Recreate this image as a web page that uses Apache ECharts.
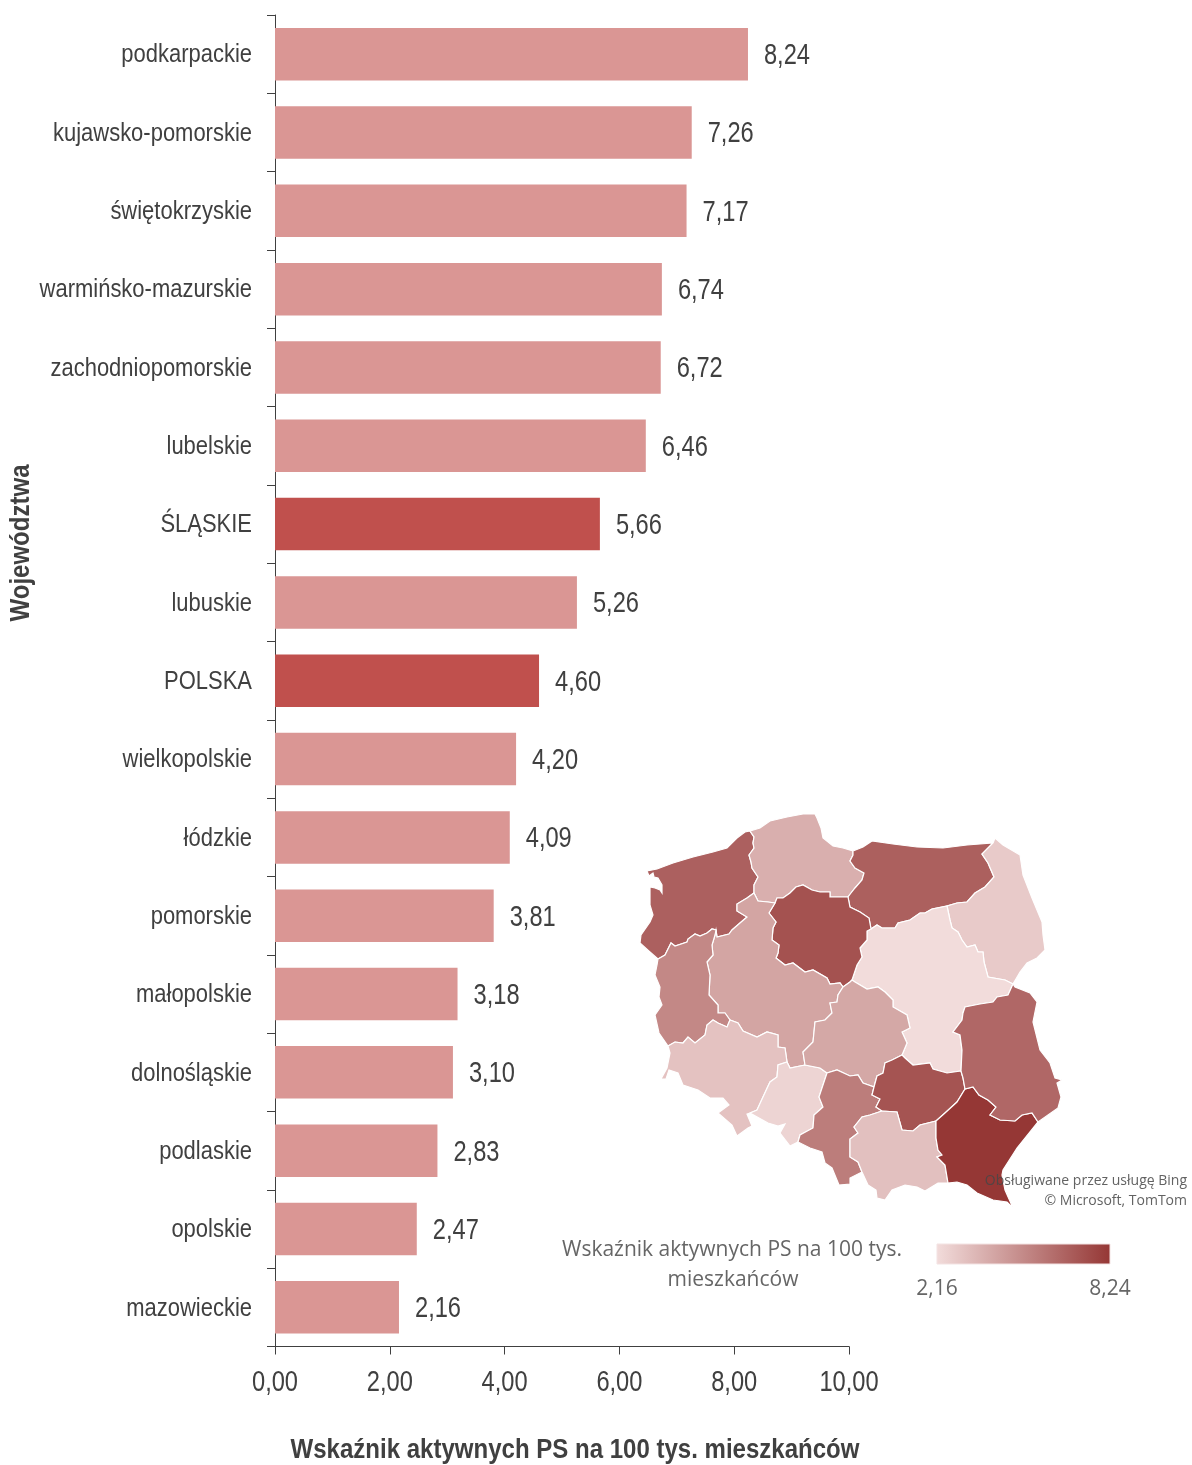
<!DOCTYPE html>
<html>
<head>
<meta charset="utf-8">
<title>Wskaźnik aktywnych PS</title>
<style>
html, body { margin: 0; padding: 0; background: #fff; }
#main { width: 1192px; height: 1465px; }
</style>
<script src="https://cdn.jsdelivr.net/npm/echarts@6/dist/echarts.min.js"></script>
</head>
<body>
<div id="main"></div>
<script>
var categories = ['podkarpackie', 'kujawsko-pomorskie', 'świętokrzyskie', 'warmińsko-mazurskie',
	'zachodniopomorskie', 'lubelskie', 'ŚLĄSKIE', 'lubuskie', 'POLSKA', 'wielkopolskie', 'łódzkie',
	'pomorskie', 'małopolskie', 'dolnośląskie', 'podlaskie', 'opolskie', 'mazowieckie'];
var values = [8.24, 7.26, 7.17, 6.74, 6.72, 6.46, 5.66, 5.26, 4.60, 4.20, 4.09, 3.81, 3.18, 3.10, 2.83, 2.47, 2.16];
var highlighted = ['ŚLĄSKIE', 'POLSKA'];
var axisTicks = [0, 2, 4, 6, 8, 10];

// region borders, shared between neighbours
var arcs = {
	zachOuter: [[658,959],[650,952],[640,943],[641,935],[650,922],[653,915],[650,905],[650,887],[655,888],[660,890],[662,893],[662,885],[658,878],[654,877],[653,873],[649,876],[647,871],[657,869],[673,863],[693,857],[713,852],[727,848],[737,838],[745,832],[750,831]],
	zachPom: [[750,831],[754,837],[753,843],[754,848],[749,855],[751,862],[752,868],[758,877],[754,885],[754,893]],
	zachWlkp: [[754,893],[747,898],[737,904],[737,911],[747,917],[740,923],[732,930],[729,934],[717,937],[716,930]],
	zachLubu: [[716,930],[712,929],[707,933],[700,936],[695,934],[688,939],[687,942],[675,946],[671,943],[665,955],[658,959]],
	pomOuter: [[750,831],[760,828],[770,821],[787,817],[803,814],[815,814],[817,818],[821,828],[823,838],[833,846],[843,848],[853,851]],
	pomWarm: [[853,851],[853,855],[850,861],[855,868],[864,873],[862,880],[855,888],[851,893],[848,897]],
	pomKuj: [[848,897],[830,897],[830,892],[820,892],[812,890],[803,885],[796,887],[790,893],[783,898],[777,898],[775,903]],
	pomWlkp: [[775,903],[768,902],[758,901],[754,893]],
	warmOuter: [[853,851],[863,847],[872,841],[893,844],[917,847],[943,848],[967,845],[993,843]],
	warmPodl: [[993,843],[982,854],[988,863],[994,877],[985,887],[975,893],[967,902],[957,903],[947,906]],
	warmMaz: [[947,906],[932,909],[925,913],[920,913],[910,920],[898,923],[895,928],[882,928],[877,925],[871,929]],
	warmKuj: [[871,929],[869,918],[860,912],[850,907],[848,897]],
	podlOuter: [[993,843],[995,838],[1003,845],[1020,855],[1023,875],[1032,898],[1042,922],[1043,935],[1045,950],[1037,958],[1027,963],[1020,972],[1013,984]],
	podlMaz: [[1013,984],[1005,980],[988,977],[984,962],[983,952],[978,952],[975,945],[967,947],[962,940],[958,932],[952,928],[950,920],[947,906]],
	mazLube: [[1013,984],[1008,995],[997,997],[993,1002],[980,1004],[965,1007],[963,1013],[962,1020],[953,1032],[960,1035],[962,1050],[961,1071]],
	mazSwie: [[961,1071],[947,1073],[933,1069],[930,1063],[913,1065],[905,1058],[902,1055]],
	mazLodz: [[902,1055],[907,1043],[902,1032],[910,1028],[907,1015],[893,1007],[893,1000],[885,992],[878,987],[867,989],[855,982],[852,980]],
	mazKuj: [[852,980],[857,965],[862,957],[860,948],[867,940],[867,931],[871,929]],
	kujLodz: [[852,980],[850,982],[843,987]],
	kujWlkp: [[775,903],[769,913],[776,922],[773,928],[772,940],[779,945],[778,953],[776,958],[785,965],[793,963],[805,972],[813,970],[827,978],[830,984],[840,983],[843,987]],
	wlkpLodz: [[843,987],[838,995],[837,1002],[830,1003],[832,1013],[825,1020],[815,1022],[813,1042],[803,1052],[805,1065]],
	wlkpOpol: [[805,1065],[790,1068],[787,1062]],
	wlkpDol: [[787,1062],[785,1048],[778,1047],[778,1035],[767,1032],[757,1037],[743,1031],[738,1023],[730,1020]],
	wlkpLubu: [[716,930],[715,935],[712,945],[713,955],[707,962],[710,975],[709,995],[718,1005],[718,1013],[725,1013],[730,1020]],
	lubuDol: [[730,1020],[727,1027],[718,1023],[713,1020],[707,1025],[705,1035],[695,1043],[688,1037],[683,1043],[675,1042],[668,1046]],
	lubuOuter: [[668,1046],[659,1033],[655,1015],[662,1005],[659,997],[660,987],[655,975],[657,965],[658,959]],
	dolOpol: [[787,1062],[778,1065],[777,1077],[770,1082],[763,1097],[757,1110],[750,1113]],
	dolOuter: [[750,1113],[747,1114],[752,1126],[748,1128],[737,1136],[732,1125],[718,1113],[729,1105],[723,1098],[710,1098],[698,1090],[683,1085],[678,1073],[669,1070],[666,1079],[661,1079],[667,1068],[670,1053],[668,1046]],
	opolLodz: [[805,1065],[820,1068],[827,1073]],
	opolSl: [[798,1142],[800,1135],[813,1128],[814,1115],[823,1107],[819,1097],[823,1085],[827,1073]],
	opolOuter: [[798,1142],[790,1146],[780,1133],[785,1124],[778,1126],[768,1123],[750,1113]],
	lodzSwie: [[902,1055],[892,1060],[885,1063],[883,1073],[877,1076],[874,1087]],
	lodzSl: [[874,1087],[863,1083],[858,1075],[850,1076],[837,1070],[827,1073]],
	slSwie: [[874,1087],[872,1095],[880,1099],[876,1107],[882,1111]],
	slMal: [[882,1111],[870,1115],[862,1117],[854,1127],[858,1133],[850,1139],[850,1157],[858,1162],[862,1172]],
	slOuter: [[862,1172],[850,1178],[850,1184],[839,1185],[832,1168],[825,1163],[822,1152],[810,1148],[798,1142]],
	swieLube: [[961,1071],[963,1078],[965,1089]],
	swiePodk: [[965,1089],[957,1102],[945,1113],[936,1121]],
	swieMal: [[936,1121],[920,1125],[913,1131],[902,1130],[897,1112],[882,1111]],
	malPodk: [[936,1121],[936,1138],[938,1150],[942,1155],[937,1157],[945,1165],[948,1183]],
	malOuter: [[948,1183],[938,1183],[925,1191],[917,1187],[905,1185],[892,1190],[885,1200],[877,1198],[876,1190],[868,1185],[862,1172]],
	lubePodk: [[965,1089],[973,1087],[979,1095],[988,1100],[996,1107],[990,1115],[1000,1120],[1015,1121],[1022,1115],[1032,1113],[1038,1122]],
	lubeOuter: [[1013,984],[1015,987],[1030,993],[1037,1002],[1033,1022],[1040,1050],[1050,1063],[1055,1078],[1062,1080],[1057,1083],[1061,1097],[1058,1108],[1038,1122]],
	podkOuter: [[1038,1122],[1017,1148],[1003,1170],[1002,1175],[1005,1190],[1013,1208],[1007,1202],[993,1200],[977,1193],[967,1185],[957,1182],[948,1183]]
};

var regions = {
	'zachodniopomorskie': ['zachOuter', 'zachPom', 'zachWlkp', 'zachLubu'],
	'pomorskie': ['pomOuter', 'pomWarm', 'pomKuj', 'pomWlkp', '-zachPom'],
	'warmińsko-mazurskie': ['warmOuter', 'warmPodl', 'warmMaz', 'warmKuj', '-pomWarm'],
	'podlaskie': ['podlOuter', 'podlMaz', '-warmPodl'],
	'mazowieckie': ['mazLube', 'mazSwie', 'mazLodz', 'mazKuj', '-warmMaz', '-podlMaz'],
	'kujawsko-pomorskie': ['-pomKuj', '-warmKuj', '-mazKuj', 'kujLodz', '-kujWlkp'],
	'wielkopolskie': ['-pomWlkp', 'kujWlkp', 'wlkpLodz', 'wlkpOpol', 'wlkpDol', '-wlkpLubu', '-zachWlkp'],
	'lubuskie': ['-zachLubu', 'wlkpLubu', 'lubuDol', 'lubuOuter'],
	'dolnośląskie': ['-lubuDol', '-wlkpDol', 'dolOpol', 'dolOuter'],
	'opolskie': ['-wlkpOpol', 'opolLodz', '-opolSl', 'opolOuter', '-dolOpol'],
	'łódzkie': ['-wlkpLodz', '-kujLodz', '-mazLodz', 'lodzSwie', 'lodzSl', '-opolLodz'],
	'śląskie': ['opolSl', '-lodzSl', 'slSwie', 'slMal', 'slOuter'],
	'świętokrzyskie': ['-mazSwie', 'swieLube', 'swiePodk', 'swieMal', '-slSwie', '-lodzSwie'],
	'małopolskie': ['-slMal', '-swieMal', 'malPodk', 'malOuter'],
	'podkarpackie': ['-swiePodk', 'lubePodk', 'podkOuter', '-malPodk'],
	'lubelskie': ['-mazLube', 'lubeOuter', '-lubePodk', '-swieLube']
};

function buildRing(parts) {
	var ring = [];
	for (var i = 0; i < parts.length; i++) {
		var name = parts[i];
		var pts = name.charAt(0) == '-' ? arcs[name.substring(1)].slice().reverse() : arcs[name];
		for (var j = 0; j < pts.length; j++) {
			ring.push([pts[j][0], -pts[j][1]]); // geo y points up
		}
	}
	ring.push(ring[0]);
	return ring;
}

var features = [];
for (var key in regions) {
	features.push({
		type: 'Feature',
		properties: { name: key },
		geometry: { type: 'Polygon', coordinates: [buildRing(regions[key])] }
	});
}
echarts.registerMap('polska', { type: 'FeatureCollection', features: features });

function comma(v) {
	return v.toFixed(2).replace('.', ',');
}

var mapData = [];
var barData = [];
var nameLabels = [];
var valueLabels = [];
for (var i = 0; i < categories.length; i++) {
	if (categories[i] != 'POLSKA') {
		mapData.push({ name: categories[i].toLowerCase(), value: values[i] });
	}
	barData.push({
		value: values[i],
		itemStyle: { color: highlighted.indexOf(categories[i]) >= 0 ? '#c0504d' : '#da9694' }
	});
	nameLabels.push([0, i, categories[i]]);
	valueLabels.push([values[i], i, comma(values[i])]);
}
var tickLabels = [];
for (var i = 0; i < axisTicks.length; i++) {
	tickLabels.push([axisTicks[i], categories.length - 1, comma(axisTicks[i])]);
}

var sans = '"Liberation Sans", Arial, sans-serif';
var mapText = '"Open Sans", sans-serif';
var textColor = '#404040';
var lowColor = '#f2dcdb';
var highColor = '#953735';

// labels drawn through the axes so they can be squeezed like the condensed Arial of the original
function textSeries(items, align, dx, dy, size, squeeze) {
	return {
		type: 'custom',
		coordinateSystem: 'cartesian2d',
		silent: true,
		z: 5,
		data: items,
		encode: { x: 0, y: 1 },
		renderItem: function (params, api) {
			var pos = api.coord([api.value(0), api.value(1)]);
			return {
				type: 'text',
				x: pos[0] + dx,
				y: pos[1] + dy,
				scaleX: squeeze,
				style: {
					text: items[params.dataIndex][2],
					textAlign: align,
					textVerticalAlign: 'middle',
					fontFamily: sans,
					fontSize: size,
					fill: textColor
				}
			};
		}
	};
}

var myChart = echarts.init(document.getElementById('main'));
var option = {
	animation: false,
	backgroundColor: '#fff',
	grid: { left: 275, top: 15, width: 574, height: 1331.5, outerBoundsMode: 'none' },
	xAxis: {
		type: 'value',
		min: axisTicks[0],
		max: axisTicks[axisTicks.length - 1],
		interval: 2,
		splitLine: { show: false },
		axisLine: { show: true, lineStyle: { color: '#404040', width: 1 } },
		axisTick: { show: true, length: 8, lineStyle: { color: '#404040' } },
		axisLabel: { show: false }
	},
	yAxis: {
		type: 'category',
		inverse: true,
		data: categories,
		axisLine: { show: true, lineStyle: { color: '#404040', width: 1 } },
		axisTick: { show: true, length: 8, lineStyle: { color: '#404040' } },
		axisLabel: { show: false }
	},
	visualMap: {
		show: false,
		type: 'continuous',
		seriesIndex: 1,
		min: values[values.length - 1],
		max: values[0],
		inRange: { color: [lowColor, highColor] }
	},
	series: [{
		type: 'bar',
		data: barData,
		barWidth: 52.5
	}, {
		type: 'map',
		map: 'polska',
		data: mapData,
		aspectScale: 1,
		left: 640, top: 814, width: 422, height: 394,
		roam: false,
		silent: true,
		label: { show: false },
		itemStyle: { borderColor: '#fff', borderWidth: 1.2 },
		emphasis: { disabled: true }
	},
	textSeries(nameLabels, 'right', -23, 1, 26, 0.845),
	textSeries(valueLabels, 'left', 16, 2, 29, 0.815),
	textSeries(tickLabels, 'center', 0, 76, 29, 0.815)],
	graphic: [
		{ type: 'text', z: 100, x: 22, y: 543, rotation: Math.PI / 2, scaleX: 0.89,
			style: { text: 'Województwa', textAlign: 'center', textVerticalAlign: 'middle', fontFamily: sans, fontWeight: 'bold', fontSize: 27, fill: textColor } },
		{ type: 'text', z: 100, x: 575, y: 1451, scaleX: 0.89,
			style: { text: 'Wskaźnik aktywnych PS na 100 tys. mieszkańców', textAlign: 'center', textVerticalAlign: 'middle', fontFamily: sans, fontWeight: 'bold', fontSize: 27, fill: textColor } },
		{ type: 'text', z: 100, x: 1187, y: 1181,
			style: { text: 'Obsługiwane przez usługę Bing', textAlign: 'right', textVerticalAlign: 'middle', fontFamily: mapText, fontSize: 14, fill: 'rgba(70,70,70,0.85)' } },
		{ type: 'text', z: 100, x: 1187, y: 1201,
			style: { text: '© Microsoft, TomTom', textAlign: 'right', textVerticalAlign: 'middle', fontFamily: mapText, fontSize: 14, fill: 'rgba(70,70,70,0.85)' } },
		{ type: 'text', z: 100, x: 732, y: 1250,
			style: { text: 'Wskaźnik aktywnych PS na 100 tys.', textAlign: 'center', textVerticalAlign: 'middle', fontFamily: mapText, fontSize: 21, fill: '#666' } },
		{ type: 'text', z: 100, x: 733, y: 1280,
			style: { text: 'mieszkańców', textAlign: 'center', textVerticalAlign: 'middle', fontFamily: mapText, fontSize: 21, fill: '#666' } },
		{ type: 'rect', z: 100, shape: { x: 937, y: 1244, width: 173, height: 20 },
			style: {
				fill: new echarts.graphic.LinearGradient(0, 0, 1, 0, [{ offset: 0, color: lowColor }, { offset: 1, color: highColor }]),
				stroke: '#f3e3e3', lineWidth: 1
			} },
		{ type: 'text', z: 100, x: 937, y: 1289,
			style: { text: comma(values[values.length - 1]), textAlign: 'center', textVerticalAlign: 'middle', fontFamily: mapText, fontSize: 21, fill: '#666' } },
		{ type: 'text', z: 100, x: 1110, y: 1289,
			style: { text: comma(values[0]), textAlign: 'center', textVerticalAlign: 'middle', fontFamily: mapText, fontSize: 21, fill: '#666' } }
	]
};
myChart.setOption(option);
</script>
</body>
</html>
